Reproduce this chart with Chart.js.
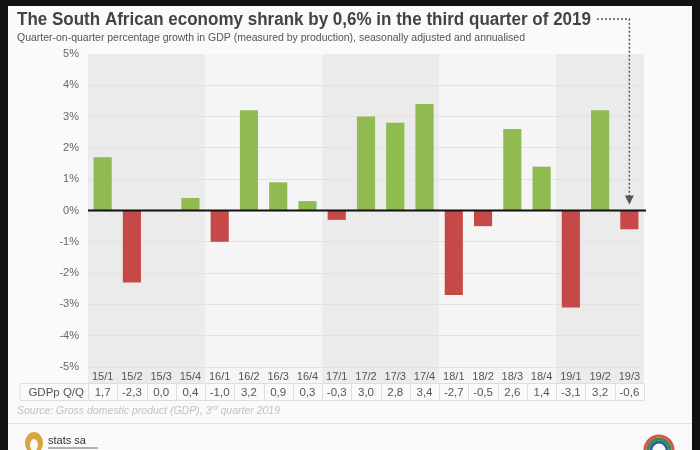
<!DOCTYPE html>
<html>
<head>
<meta charset="utf-8">
<script src="https://cdn.jsdelivr.net/npm/chart.js@4.4.0/dist/chart.umd.min.js"></script>
<style>
  body { margin: 0; background: #111; }
  #wrap { width: 700px; height: 450px; }
</style>
</head>
<body>
<div id="wrap"><canvas id="gdpChart" width="700" height="450"></canvas></div>
<script>
// quarters (year/quarter)
const quarters = ['15/1', '15/2', '15/3', '15/4', '16/1', '16/2', '16/3', '16/4', '17/1', '17/2',
                  '17/3', '17/4', '18/1', '18/2', '18/3', '18/4', '19/1', '19/2', '19/3'];
// quarter-on-quarter GDP growth, seasonally adjusted and annualised (%)
const growth = [1.7, -2.3, 0.0, 0.4, -1.0, 3.2, 0.9, 0.3, -0.3, 3.0,
                2.8, 3.4, -2.7, -0.5, 2.6, 1.4, -3.1, 3.2, -0.6];
const yTicks = [-5, -4, -3, -2, -1, 0, 1, 2, 3, 4, 5];

const titleText = 'The South African economy shrank by 0,6% in the third quarter of 2019';
const subtitleText = 'Quarter-on-quarter percentage growth in GDP (measured by production), seasonally adjusted and annualised';
const rowLabel = 'GDPp Q/Q';

const narrow = "'Liberation Sans Narrow', 'Liberation Sans', Arial, sans-serif";
const GREEN = '#8fbb50';
const RED = '#c64947';

Chart.defaults.font.family = narrow;

function fitText(ctx, text, x, y, width) {
    // squeeze or stretch text horizontally to the measured width of the original
    const w = ctx.measureText(text).width;
    ctx.save();
    ctx.translate(x, y);
    ctx.scale(width / w, 1);
    ctx.fillText(text, 0, 0);
    ctx.restore();
}

const decor = {
    id: 'decor',
    beforeDraw(chart) {
        const { ctx, chartArea: a, scales: { x } } = chart;
        ctx.save();
        // dark frame and panel
        ctx.fillStyle = '#111';
        ctx.fillRect(0, 0, 700, 450);
        ctx.fillStyle = '#fafafa';
        ctx.fillRect(8, 6, 684, 444);

        // alternating year bands
        const half = (x.getPixelForValue(1) - x.getPixelForValue(0)) / 2;
        for (let i = 0; i < quarters.length; i += 4) {
            const j = Math.min(i + 3, quarters.length - 1);
            const x0 = x.getPixelForValue(i) - half;
            const x1 = x.getPixelForValue(j) + half;
            ctx.fillStyle = (i / 4) % 2 === 0 ? '#ebebeb' : '#f5f5f5';
            ctx.fillRect(x0, a.top, x1 - x0, a.bottom + 16 - a.top);
        }
        ctx.restore();
    },
    afterDatasetsDraw(chart) {
        const { ctx, chartArea: a, scales: { y } } = chart;
        const y0 = y.getPixelForValue(0);
        ctx.save();
        ctx.strokeStyle = '#111';
        ctx.lineWidth = 2;
        ctx.beginPath();
        ctx.moveTo(a.left, y0);
        ctx.lineTo(a.right + 2, y0);
        ctx.stroke();
        ctx.restore();
    },
    afterDraw(chart) {
        const { ctx, chartArea: a, scales: { x, y } } = chart;
        ctx.save();

        // title + subtitle
        ctx.fillStyle = '#444';
        ctx.textBaseline = 'middle';
        ctx.font = "bold 18px 'Liberation Sans', Arial, sans-serif";
        fitText(ctx, titleText, 17, 20, 574);
        ctx.fillStyle = '#555';
        ctx.font = '11px ' + narrow;
        fitText(ctx, subtitleText, 17, 38, 508);

        // dotted arrow from title to the last bar
        const ax = x.getPixelForValue(quarters.length - 1);
        ctx.strokeStyle = '#555';
        ctx.lineWidth = 1.5;
        ctx.setLineDash([2, 2]);
        ctx.beginPath();
        ctx.moveTo(597, 19);
        ctx.lineTo(ax, 19);
        ctx.lineTo(ax, y.getPixelForValue(0) - 14);
        ctx.stroke();
        ctx.setLineDash([]);
        ctx.fillStyle = '#555';
        ctx.beginPath();
        ctx.moveTo(ax - 4.5, y.getPixelForValue(0) - 15);
        ctx.lineTo(ax + 4.5, y.getPixelForValue(0) - 15);
        ctx.lineTo(ax, y.getPixelForValue(0) - 6);
        ctx.closePath();
        ctx.fill();

        // data table row
        const half = (x.getPixelForValue(1) - x.getPixelForValue(0)) / 2;
        const top = a.bottom + 16.5, bot = top + 17;
        ctx.strokeStyle = '#dedede';
        ctx.lineWidth = 1;
        ctx.beginPath();
        ctx.moveTo(20, top); ctx.lineTo(a.right, top);
        ctx.moveTo(20, bot); ctx.lineTo(a.right, bot);
        ctx.moveTo(20, top); ctx.lineTo(20, bot);
        for (let i = 0; i <= quarters.length; i++) {
            const px = Math.round(x.getPixelForValue(0) - half + i * 2 * half) + 0.5;
            ctx.moveTo(px, top); ctx.lineTo(px, bot);
        }
        ctx.stroke();
        ctx.fillStyle = '#555';
        ctx.font = '11.5px ' + narrow;
        ctx.textAlign = 'right';
        ctx.fillText(rowLabel, a.left - 4, (top + bot) / 2 + 1);
        ctx.textAlign = 'center';
        growth.forEach((v, i) => {
            ctx.fillText(v.toFixed(1).replace('.', ','), x.getPixelForValue(i), (top + bot) / 2 + 1);
        });

        // source note
        ctx.textAlign = 'left';
        ctx.fillStyle = '#c2c2c2';
        ctx.font = "italic 10.5px " + narrow;
        let sx = 17;
        const s1 = 'Source: Gross domestic product (GDP), 3';
        ctx.fillText(s1, sx, 411);
        sx += ctx.measureText(s1).width;
        ctx.font = "italic 7px " + narrow;
        ctx.fillText('rd', sx, 408);
        sx += ctx.measureText('rd').width;
        ctx.font = "italic 10.5px " + narrow;
        ctx.fillText(' quarter 2019', sx, 411);

        // footer separator
        ctx.strokeStyle = '#e2e2e2';
        ctx.beginPath();
        ctx.moveTo(8, 423.5); ctx.lineTo(692, 423.5);
        ctx.stroke();

        // footer logos (approximate)
        ctx.fillStyle = '#d9a540';
        ctx.beginPath();
        ctx.ellipse(34, 443, 9, 11, 0, 0, Math.PI * 2);
        ctx.fill();
        ctx.fillStyle = '#fafafa';
        ctx.beginPath();
        ctx.ellipse(34, 445, 4, 6, 0, 0, Math.PI * 2);
        ctx.fill();
        ctx.fillStyle = '#333';
        ctx.font = '11px ' + narrow;
        ctx.textBaseline = 'middle';
        ctx.fillText('stats sa', 48, 441);
        ctx.strokeStyle = '#999';
        ctx.lineWidth = 1.5;
        ctx.beginPath();
        ctx.moveTo(48, 448); ctx.lineTo(98, 448);
        ctx.stroke();

        const cx = 659, cy = 450;
        ctx.lineWidth = 3;
        [['#d9534f', 14], ['#3d8b4a', 11], ['#2f5f9c', 8]].forEach(([c, r]) => {
            ctx.strokeStyle = c;
            ctx.beginPath();
            ctx.arc(cx, cy, r, Math.PI, Math.PI * 2);
            ctx.stroke();
        });
        ctx.restore();
    }
};

const ctx = document.getElementById('gdpChart').getContext('2d');

const gdp_chart = new Chart(ctx, {
    type: 'bar',
    data: {
        labels: quarters,
        datasets: [{
            label: rowLabel,
            data: growth,
            backgroundColor: growth.map(v => v < 0 ? RED : GREEN),
            borderWidth: 0,
            categoryPercentage: 1,
            barPercentage: 0.62
        }]
    },
    options: {
        responsive: false,
        animation: false,
        layout: {
            padding: { left: 8, right: 56, top: 54, bottom: 63 }
        },
        plugins: {
            legend: { display: false },
            tooltip: { enabled: false }
        },
        scales: {
            x: {
                grid: { display: false, drawTicks: false },
                border: { display: false },
                ticks: {
                    color: '#555',
                    font: { size: 11 },
                    padding: 3,
                    maxRotation: 0,
                    autoSkip: false
                },
                afterFit(scale) { scale.height = 20; }
            },
            y: {
                min: -5,
                max: 5,
                afterBuildTicks(scale) {
                    scale.ticks = yTicks.map(v => ({ value: v }));
                },
                grid: {
                    color: c => c.tick.value === 0 || c.tick.value === 5 ? 'rgba(0,0,0,0)' : '#e2e2e2',
                    drawTicks: false
                },
                border: { display: false },
                ticks: {
                    color: '#666',
                    font: { size: 11 },
                    padding: 9,
                    callback: v => v + '%'
                },
                afterFit(scale) { scale.width = 80; }
            }
        }
    },
    plugins: [decor]
});
</script>
</body>
</html>
